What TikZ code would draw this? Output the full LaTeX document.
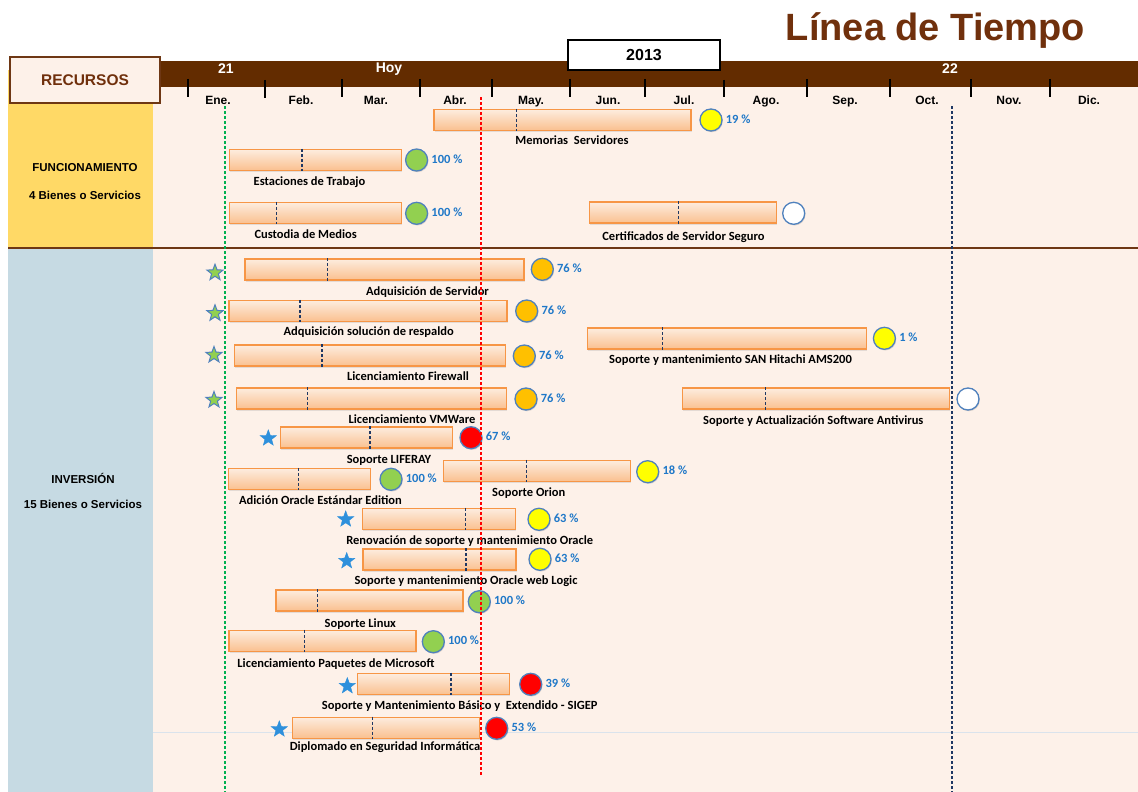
\documentclass[tikz,border=0pt]{standalone}
\usepackage{fontspec}
\usepackage{tikz}
\usepackage{xcolor}
\setmainfont{Carlito}
\newfontfamily\headfont{Liberation Sans}
\usetikzlibrary{positioning,shapes.geometric,shadows}

\definecolor{barbrown}{RGB}{99,44,0}
\definecolor{titlebrown}{RGB}{112,48,12}
\definecolor{bgpeach}{RGB}{253,241,233}
\definecolor{colyellow}{RGB}{255,217,102}
\definecolor{colblue}{RGB}{198,218,227}
\definecolor{baredge}{RGB}{247,150,70}
\definecolor{bartop}{RGB}{253,236,222}
\definecolor{barbottom}{RGB}{250,192,143}
\definecolor{dotedge}{RGB}{79,129,189}
\definecolor{pctblue}{RGB}{31,120,200}
\definecolor{marknavy}{RGB}{31,56,100}
\definecolor{starblue}{RGB}{46,144,220}
\definecolor{stargreen}{RGB}{146,208,80}
\definecolor{dotgreen}{RGB}{146,208,80}
\definecolor{dotyellow}{RGB}{255,255,0}
\definecolor{dotorange}{RGB}{255,192,0}
\definecolor{dotred}{RGB}{255,0,0}
\definecolor{linegreen}{RGB}{0,176,80}
\definecolor{sectbrown}{RGB}{110,55,20}
\definecolor{faintrule}{RGB}{218,227,236}

\tikzset{
    task-bar/.style = {draw=baredge, line width=1.5pt, top color=bartop, bottom color=barbottom, rectangle, minimum height=21pt, inner sep=0pt, anchor=west, drop shadow={opacity=0.2, shadow xshift=1pt, shadow yshift=-1.5pt}},
    bar-mark/.style = {draw=marknavy, line width=1.2pt, dash pattern=on 3pt off 2pt},
    task-dot/.style = {circle, draw=dotedge, line width=1.3pt, minimum size=22pt, inner sep=0pt, drop shadow={opacity=0.3, shadow xshift=0.8pt, shadow yshift=-1.2pt}},
    task-pct/.style = {text=pctblue, font=\bfseries\fontsize{12.5}{14}\selectfont, inner sep=1pt, text height=8.5pt, text depth=2.5pt},
    task-label/.style = {font=\bfseries\fontsize{12.5}{14}\selectfont, inner sep=0pt, text height=8.5pt, text depth=2.5pt},
    task-star/.style = {star, star points=5, star point ratio=2.4, minimum size=17pt, inner sep=0pt, fill=starblue, draw=starblue},
    task-star-ok/.style = {task-star, fill=stargreen, draw=dotedge, line width=1pt},
    month-label/.style = {font=\headfont\bfseries\fontsize{12}{14}\selectfont, text height=9pt, text depth=2.5pt},
    head-text/.style = {text=white, font=\headfont\bfseries\fontsize{14}{16}\selectfont, text height=10pt, text depth=3pt},
    col-text/.style = {font=\headfont\bfseries\fontsize{11.5}{13}\selectfont},
    rec-box/.style = {draw=sectbrown, line width=1.5pt, fill=bgpeach, minimum width=150pt, minimum height=46pt, text=titlebrown, font=\headfont\bfseries\fontsize{15.5}{17}\selectfont},
    year-box/.style = {draw=black, line width=1.5pt, fill=white, minimum width=152pt, minimum height=30pt, font=\headfont\bfseries\fontsize{16}{18}\selectfont},
    title-text/.style = {text=titlebrown, font=\headfont\bfseries\fontsize{38}{42}\selectfont},
    tick-mark/.style = {draw=black, line width=2.8pt},
    guide-green/.style = {draw=linegreen, line width=1.2pt, dash pattern=on 3pt off 2pt},
    guide-red/.style = {draw=dotred, line width=1.2pt, dash pattern=on 3pt off 2pt},
    guide-navy/.style = {draw=marknavy, line width=1.2pt, dash pattern=on 3pt off 2pt},
}

\begin{document}
\begin{tikzpicture}[x=1pt, y=-1pt]
\useasboundingbox (0,0) rectangle (1138,792);
\fill[bgpeach] (153,87) rectangle (1138,792);
\fill[colyellow] (8,70) rectangle (153,248);
\fill[colblue] (8,248) rectangle (153,792);
\fill[barbrown] (160,61) rectangle (1138,87);
\draw[faintrule, line width=1pt] (153,732) -- (1138,732);
\draw[sectbrown, line width=1.5pt] (8,248) -- (1138,248);

\node[title-text] (title) at (935.5,31) {Línea de Tiempo};
\node[rec-box] (rec) at (85,80) {RECURSOS};
\node[year-box] (year) at (644,55) {2013};
\node[head-text] (h21) at (226,70) {21};
\node[head-text] (hoy) at (389,69) {Hoy};
\node[head-text] (h22) at (950,70) {22};

\draw[tick-mark] (188,79) -- (188,97) (265,80) -- (265,98) (342,79) -- (342,97) (420,79) -- (420,97)
    (492,79) -- (492,97) (570,79) -- (570,97) (645,79) -- (645,97) (724,80) -- (724,97)
    (807,79) -- (807,97) (890,79) -- (890,97) (971,79) -- (971,97) (1050,79) -- (1050,97);
\node[month-label] (ene) at (218,101) {Ene.};
\node[month-label] (feb) at (301,101) {Feb.};
\node[month-label] (mar) at (376,101) {Mar.};
\node[month-label] (abr) at (455,101) {Abr.};
\node[month-label] (may) at (531,101) {May.};
\node[month-label] (jun) at (608,101) {Jun.};
\node[month-label] (jul) at (684,101) {Jul.};
\node[month-label] (ago) at (766,101) {Ago.};
\node[month-label] (sep) at (845,101) {Sep.};
\node[month-label] (oct) at (927,101) {Oct.};
\node[month-label] (nov) at (1009,101) {Nov.};
\node[month-label] (dic) at (1089,101) {Dic.};

\node[col-text] (fun) at (85,168) {FUNCIONAMIENTO};
\node[col-text] (fun-n) at (85,195) {4 Bienes o Servicios};
\node[col-text] (inv) at (83,478) {INVERSIÓN};
\node[col-text] (inv-n) at (83,504) {15 Bienes o Servicios};

\node[task-bar, minimum width=257pt] (mem) at (433,120) {};
\draw[bar-mark] ([xshift=83.5pt]mem.north west) -- ([xshift=83.5pt]mem.south west);
\node[task-dot, fill=dotyellow] (mem-d) at (711,120) {};
\node[task-pct, right=2pt of mem-d] (mem-p) {19 \%};
\node[task-label] (mem-t) at (572,141.7) {Memorias\ \ Servidores};

\node[task-bar, minimum width=172pt] (est) at (228.6,160) {};
\draw[bar-mark] ([xshift=73.4pt]est.north west) -- ([xshift=73.4pt]est.south west);
\node[task-dot, fill=dotgreen] (est-d) at (416.6,160) {};
\node[task-pct, right=2pt of est-d] (est-p) {100 \%};
\node[task-label] (est-t) at (309.5,182.7) {Estaciones de Trabajo};

\node[task-bar, minimum width=172pt] (cus) at (228.6,213) {};
\draw[bar-mark] ([xshift=48.1pt]cus.north west) -- ([xshift=48.1pt]cus.south west);
\node[task-dot, fill=dotgreen] (cus-d) at (416.6,213.3) {};
\node[task-pct, right=2pt of cus-d] (cus-p) {100 \%};
\node[task-label] (cus-t) at (305.7,235.7) {Custodia de Medios};

\node[task-bar, minimum width=187pt] (cer) at (588.7,212.7) {};
\draw[bar-mark] ([xshift=89.6pt]cer.north west) -- ([xshift=89.6pt]cer.south west);
\node[task-dot, fill=white] (cer-d) at (793.7,213.3) {};
\node[task-label] (cer-t) at (683.5,237.7) {Certificados de Servidor Seguro};

\node[task-bar, minimum width=279pt] (ads) at (244,269.5) {};
\draw[bar-mark] ([xshift=83.7pt]ads.north west) -- ([xshift=83.7pt]ads.south west);
\node[task-dot, fill=dotorange] (ads-d) at (542.3,269.3) {};
\node[task-pct, right=2pt of ads-d] (ads-p) {76 \%};
\node[task-label] (ads-t) at (427.5,292) {Adquisición de Servidor};
\node[task-star-ok] (ads-s) at (215,272.7) {};

\node[task-bar, minimum width=278pt] (adr) at (228.3,311) {};
\draw[bar-mark] ([xshift=71.7pt]adr.north west) -- ([xshift=71.7pt]adr.south west);
\node[task-dot, fill=dotorange] (adr-d) at (526.7,311) {};
\node[task-pct, right=2pt of adr-d] (adr-p) {76 \%};
\node[task-label] (adr-t) at (368.7,332.7) {Adquisición solución de respaldo};
\node[task-star-ok] (adr-s) at (215,313.3) {};

\node[task-bar, minimum width=279pt] (san) at (586.5,338.5) {};
\draw[bar-mark] ([xshift=76pt]san.north west) -- ([xshift=76pt]san.south west);
\node[task-dot, fill=dotyellow] (san-d) at (884.4,338.3) {};
\node[task-pct, right=2pt of san-d] (san-p) {1 \%};
\node[task-label] (san-t) at (730.5,360) {Soporte y mantenimiento SAN Hitachi AMS200};

\node[task-bar, minimum width=271pt] (fw) at (233.7,355.7) {};
\draw[bar-mark] ([xshift=88.3pt]fw.north west) -- ([xshift=88.3pt]fw.south west);
\node[task-dot, fill=dotorange] (fw-d) at (524.3,356) {};
\node[task-pct, right=2pt of fw-d] (fw-p) {76 \%};
\node[task-label] (fw-t) at (408,377.7) {Licenciamiento Firewall};
\node[task-star-ok] (fw-s) at (214,355) {};

\node[task-bar, minimum width=270pt] (vmw) at (235.7,398.5) {};
\draw[bar-mark] ([xshift=72pt]vmw.north west) -- ([xshift=72pt]vmw.south west);
\node[task-dot, fill=dotorange] (vmw-d) at (526,399) {};
\node[task-pct, right=2pt of vmw-d] (vmw-p) {76 \%};
\node[task-label] (vmw-t) at (412,420.7) {Licenciamiento VMWare};
\node[task-star-ok] (vmw-s) at (214,400) {};

\node[task-bar, minimum width=267pt] (av) at (681.6,398.7) {};
\draw[bar-mark] ([xshift=83.7pt]av.north west) -- ([xshift=83.7pt]av.south west);
\node[task-dot, fill=white] (av-d) at (968,399) {};
\node[task-label] (av-t) at (813.3,421.7) {Soporte y Actualización Software Antivirus};

\node[task-bar, minimum width=172pt] (lif) at (279.7,437.7) {};
\draw[bar-mark] ([xshift=90.3pt]lif.north west) -- ([xshift=90.3pt]lif.south west);
\node[task-dot, fill=dotred] (lif-d) at (471,437.7) {};
\node[task-pct, right=2pt of lif-d] (lif-p) {67 \%};
\node[task-label] (lif-t) at (389,460) {Soporte LIFERAY};
\node[task-star] (lif-s) at (268.3,438.3) {};

\node[task-bar, minimum width=187pt] (ori) at (442.7,471) {};
\draw[bar-mark] ([xshift=84pt]ori.north west) -- ([xshift=84pt]ori.south west);
\node[task-dot, fill=dotyellow] (ori-d) at (647.7,471.7) {};
\node[task-pct, right=2pt of ori-d] (ori-p) {18 \%};
\node[task-label] (ori-t) at (528.8,493.3) {Soporte Orion};

\node[task-bar, minimum width=142pt] (aoe) at (227.7,479.2) {};
\draw[bar-mark] ([xshift=71pt]aoe.north west) -- ([xshift=71pt]aoe.south west);
\node[task-dot, fill=dotgreen] (aoe-d) at (391,479.3) {};
\node[task-pct, right=2pt of aoe-d] (aoe-p) {100 \%};
\node[task-label] (aoe-t) at (320.5,501.7) {Adición Oracle Estándar Edition};

\node[task-bar, minimum width=153pt] (ren) at (361.7,519.2) {};
\draw[bar-mark] ([xshift=103.6pt]ren.north west) -- ([xshift=103.6pt]ren.south west);
\node[task-dot, fill=dotyellow] (ren-d) at (539,519.3) {};
\node[task-pct, right=2pt of ren-d] (ren-p) {63 \%};
\node[task-label] (ren-t) at (469.7,541.7) {Renovación de soporte y mantenimiento Oracle};
\node[task-star] (ren-s) at (345.7,519.3) {};

\node[task-bar, minimum width=153pt] (wl) at (362.3,559.7) {};
\draw[bar-mark] ([xshift=103.7pt]wl.north west) -- ([xshift=103.7pt]wl.south west);
\node[task-dot, fill=dotyellow] (wl-d) at (540,559.3) {};
\node[task-pct, right=2pt of wl-d] (wl-p) {63 \%};
\node[task-label] (wl-t) at (466,581.7) {Soporte y mantenimiento Oracle web Logic};
\node[task-star] (wl-s) at (346.7,561) {};

\node[task-bar, minimum width=187pt] (lin) at (275,600.5) {};
\draw[bar-mark] ([xshift=42.7pt]lin.north west) -- ([xshift=42.7pt]lin.south west);
\node[task-dot, fill=dotgreen] (lin-d) at (479.3,601.7) {};
\node[task-pct, right=2pt of lin-d] (lin-p) {100 \%};
\node[task-label] (lin-t) at (360.3,624) {Soporte Linux};

\node[task-bar, minimum width=187pt] (ms) at (228.3,641) {};
\draw[bar-mark] ([xshift=76.4pt]ms.north west) -- ([xshift=76.4pt]ms.south west);
\node[task-dot, fill=dotgreen] (ms-d) at (433.3,641.7) {};
\node[task-pct, right=2pt of ms-d] (ms-p) {100 \%};
\node[task-label] (ms-t) at (336,664) {Licenciamiento Paquetes de Microsoft};

\node[task-bar, minimum width=152pt] (sig) at (356.7,684.2) {};
\draw[bar-mark] ([xshift=94.3pt]sig.north west) -- ([xshift=94.3pt]sig.south west);
\node[task-dot, fill=dotred] (sig-d) at (530.7,684.3) {};
\node[task-pct, right=2pt of sig-d] (sig-p) {39 \%};
\node[task-label] (sig-t) at (459.7,706.7) {Soporte y Mantenimiento Básico y\ \ Extendido - SIGEP};
\node[task-star] (sig-s) at (347.3,686) {};

\node[task-bar, minimum width=187pt] (dip) at (291.7,727.8) {};
\draw[bar-mark] ([xshift=81pt]dip.north west) -- ([xshift=81pt]dip.south west);
\node[task-dot, fill=dotred] (dip-d) at (496.7,728.3) {};
\node[task-pct, right=2pt of dip-d] (dip-p) {53 \%};
\node[task-label] (dip-t) at (385,747.3) {Diplomado en Seguridad Informática};
\node[task-star] (dip-s) at (279.3,729.3) {};

\coordinate (ini-top) at (225,106);
\coordinate (ini-bot) at (225,792);
\coordinate (hoy-top) at (481,97);
\coordinate (hoy-bot) at (481,775);
\coordinate (fin-top) at (952,106);
\coordinate (fin-bot) at (952,792);
\draw[guide-green] (ini-top) -- (ini-bot);
\draw[guide-red] (hoy-top) -- (hoy-bot);
\draw[guide-navy] (fin-top) -- (fin-bot);
\end{tikzpicture}
\end{document}
